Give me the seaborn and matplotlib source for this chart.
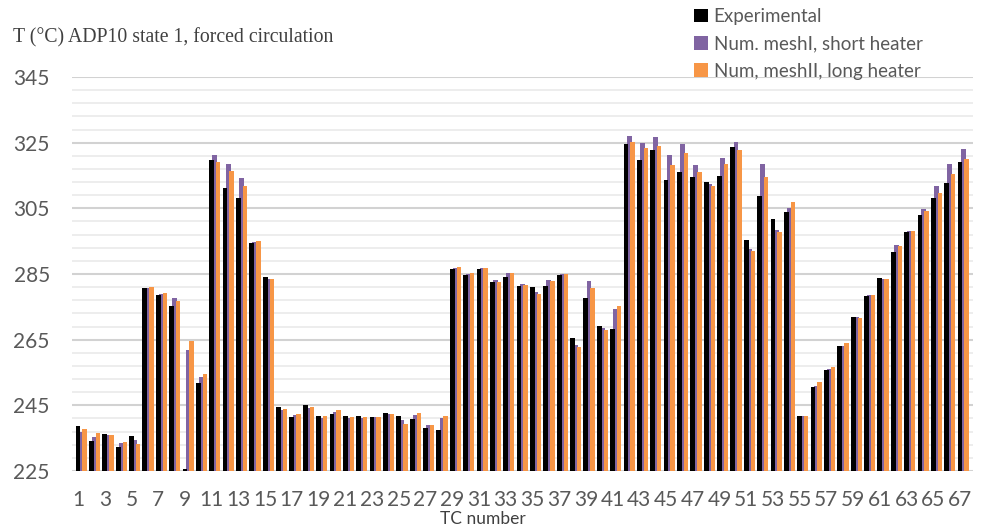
import numpy as np
import pandas as pd
import matplotlib
matplotlib.use("Agg")
import matplotlib.pyplot as plt
import seaborn as sns
from matplotlib.patches import Patch

# Thermocouple readings, ADP10 state 1 (forced circulation)
tc_numbers = list(range(1, 68))

experimental = [
    238.7, 234.1, 236.2, 232.3, 235.6, 280.6, 278.7, 275.4, 225.5, 251.7,
    319.6, 311.1, 308.0, 294.3, 284.1, 244.6, 241.5, 245.2, 241.8, 242.3,
    241.7, 241.9, 241.5, 242.8, 241.7, 240.8, 238.1, 237.5, 286.5, 284.8,
    286.5, 282.6, 284.2, 281.2, 281.0, 281.4, 284.8, 265.5, 277.8, 269.2,
    268.2, 324.7, 319.8, 322.7, 313.6, 316.0, 314.4, 313.1, 314.7, 323.8,
    295.3, 308.8, 301.7, 303.8, 241.6, 250.5, 255.7, 263.0, 272.0, 278.4,
    283.8, 291.8, 297.9, 303.0, 308.1, 312.6, 319.1,
]

mesh1_short_heater = [
    237.0, 235.5, 236.0, 233.5, 234.3, 280.8, 278.9, 277.7, 261.9, 253.5,
    321.1, 318.4, 314.2, 294.6, 283.5, 243.5, 242.0, 244.2, 241.2, 243.0,
    241.0, 241.1, 241.4, 242.4, 240.4, 242.1, 239.0, 241.2, 286.8, 285.1,
    286.7, 283.1, 285.3, 282.0, 279.5, 283.1, 284.9, 263.5, 282.9, 268.5,
    274.2, 326.9, 324.9, 326.7, 321.3, 324.7, 318.1, 312.5, 320.4, 325.1,
    292.5, 318.6, 298.5, 305.2, 241.6, 250.9, 256.0, 263.2, 271.8, 278.6,
    283.6, 293.7, 298.2, 304.7, 311.7, 318.5, 323.2,
]

mesh2_long_heater = [
    237.9, 236.7, 236.1, 233.8, 233.2, 281.1, 279.2, 276.8, 264.6, 254.5,
    319.1, 316.3, 311.8, 295.1, 283.6, 243.8, 242.3, 244.5, 241.6, 243.5,
    241.3, 241.3, 241.5, 242.5, 239.4, 242.6, 238.9, 241.8, 287.1, 285.4,
    286.8, 282.6, 285.4, 281.5, 279.0, 282.8, 285.0, 262.7, 280.8, 268.0,
    275.4, 325.3, 323.4, 324.1, 318.1, 322.0, 316.0, 311.9, 318.6, 322.8,
    291.9, 314.4, 297.9, 306.8, 241.7, 252.2, 256.8, 264.0, 271.5, 278.6,
    283.4, 293.5, 298.0, 304.1, 309.7, 315.6, 319.9,
]

series_labels = [
    "Experimental",
    "Num. meshI, short heater",
    "Num, meshII, long heater",
]
series_colors = ["#000000", "#8064a2", "#f79646"]

sns.set_theme(style="white")
plt.rcParams["font.family"] = ["Lato", "DejaVu Sans"]

fig = plt.figure(figsize=(9.83, 5.28), dpi=100)
ax = fig.add_axes([72 / 983, 1 - 471 / 528, (973 - 72) / 983, (471 - 77) / 528])

tc = np.array(tc_numbers, dtype=float)
df = pd.DataFrame({
    "tc": tc,
    "exp": experimental,
    "m1": mesh1_short_heater,
    "m2": mesh2_long_heater,
})

# overlapping clustered bars: purple behind, orange to the right, black in front
sns.barplot(x=df["tc"] + 0.235, y=df["m1"], native_scale=True, width=0.37,
            color=series_colors[1], saturation=1, linewidth=0, ax=ax, zorder=2)
sns.barplot(x=df["tc"] + 0.495, y=df["m2"], native_scale=True, width=0.33,
            color=series_colors[2], saturation=1, linewidth=0, ax=ax, zorder=3)
sns.barplot(x=df["tc"], y=df["exp"], native_scale=True, width=0.36,
            color=series_colors[0], saturation=1, linewidth=0, ax=ax, zorder=4)

ax.set_ylim(225, 345)
ax.set_xlim(0.55, 67.97)

# grid: light lines every 4 degrees, slightly darker every 20
ax.set_yticks(np.arange(225, 346, 20))
ax.set_yticks(np.arange(225, 346, 4), minor=True)
ax.grid(which="minor", axis="y", color="#ececec", linewidth=1.3)
ax.grid(which="major", axis="y", color="#d2d2d2", linewidth=1.5)
ax.grid(which="both", axis="x", visible=False)
ax.set_axisbelow(True)

ax.set_xticks(tc_numbers[::2])
ax.set_xticklabels([str(v) for v in tc_numbers[::2]])

for s in ax.spines.values():
    s.set_visible(False)

ax.tick_params(axis="y", which="both", length=0, pad=16, labelsize=15, labelcolor="#595959")
ax.tick_params(axis="x", which="both", length=0, pad=14, labelsize=15, labelcolor="#595959")
ax.set_xlabel("")
ax.set_ylabel("")

fig.text(483 / 983, 1 - 519 / 528, "TC number", ha="center", va="center",
         fontsize=12.5, color="#404040")

fig.text(13 / 983, 1 - 38 / 528, "T (°C) ADP10 state 1, forced circulation",
         ha="left", va="center", fontsize=14.2, color="#404040",
         family=["Liberation Serif", "DejaVu Serif"])

handles = [Patch(facecolor=c, edgecolor="none") for c in series_colors]
fig.legend(handles, series_labels, loc="upper left",
           bbox_to_anchor=(694 / 983, 1 - 8 / 528), frameon=False,
           fontsize=13.5, labelcolor="#595959", handlelength=0.75, handleheight=0.75,
           handletextpad=0.3, labelspacing=0.55, borderaxespad=0, borderpad=0)

fig.savefig("out.png", dpi=100)
